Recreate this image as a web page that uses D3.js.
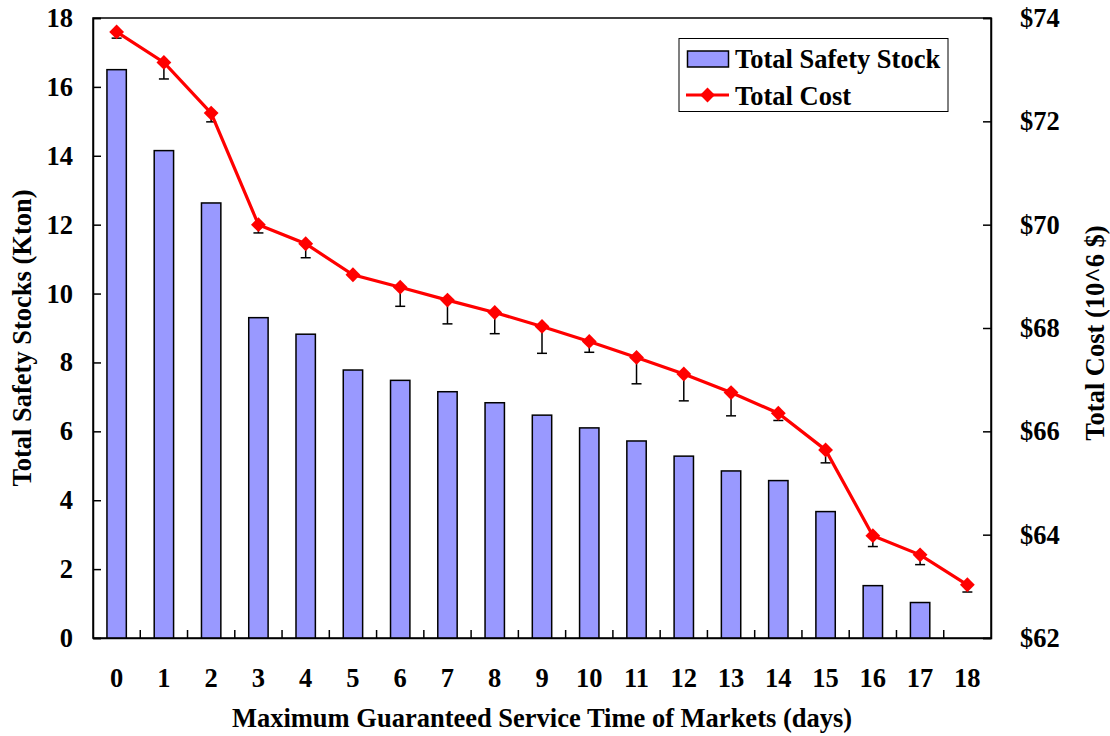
<!DOCTYPE html>
<html><head><meta charset="utf-8">
<script src="https://cdn.jsdelivr.net/npm/d3@7"></script>
<style>body{margin:0;background:#fff}text{font-family:"Liberation Serif","Times New Roman",serif;font-weight:bold;}</style>
</head><body><svg id="c" width="1110" height="736"></svg>
<script>
const categories = ["0","1","2","3","4","5","6","7","8","9","10","11","12","13","14","15","16","17","18"];
const safetyStock = [16.5,14.15,12.63,9.3,8.82,7.78,7.48,7.15,6.83,6.47,6.1,5.72,5.28,4.85,4.57,3.67,1.52,1.03,0];
const totalCost = [73.73,73.14,72.16,70.0,69.63,69.03,68.79,68.54,68.3,68.03,67.74,67.43,67.11,66.75,66.35,65.64,63.98,63.61,63.03];
const costErrLow = [0.12,0.32,0.17,0.16,0.27,0.03,0.37,0.46,0.41,0.52,0.21,0.51,0.52,0.45,0.14,0.25,0.21,0.19,0.14];
const leftTicks = [0,2,4,6,8,10,12,14,16,18];
const rightTicks = [62,64,66,68,70,72,74];

const FS = 26.5;
const svg = d3.select("#c");
const L=93, R=991, T=18, B=638;
const x = d3.scaleBand().domain(categories).range([L,R]).paddingInner(0).paddingOuter(0);
const yL = d3.scaleLinear().domain([0,18]).range([B,T]);
const yR = d3.scaleLinear().domain([62,74]).range([B,T]);
const bw = x.bandwidth()*0.41;

// frame
svg.append("rect").attr("x",L).attr("y",T).attr("width",R-L).attr("height",B-T).attr("fill","none").attr("stroke","#000").attr("stroke-width",1.5);

// bars
svg.selectAll("rect.bar").data(categories.map((c,i)=>({c,v:safetyStock[i]})).filter(d=>d.v>0)).enter().append("rect")
  .attr("class","bar").attr("x",d=>x(d.c)+x.bandwidth()/2-bw/2).attr("width",bw)
  .attr("y",d=>yL(d.v)).attr("height",d=>yL(0)-yL(d.v))
  .attr("fill","#9999FF").attr("stroke","#000").attr("stroke-width",1.5);

// axes
const gl = svg.append("g").attr("transform",`translate(${L},0)`).call(d3.axisLeft(yL).tickValues(leftTicks).tickSize(-8).tickPadding(20).tickFormat(d3.format("d")));
const gr = svg.append("g").attr("transform",`translate(${R},0)`).call(d3.axisRight(yR).tickValues(rightTicks).tickSize(-8).tickPadding(29).tickFormat(d=>"$"+d));
const gb = svg.append("g").attr("transform",`translate(0,${B})`).call(d3.axisBottom(x).tickSize(0).tickPadding(30));
[gl,gr,gb].forEach(g=>{g.select(".domain").attr("stroke","#000").attr("stroke-width",1.5);g.selectAll("line").attr("stroke","#000").attr("stroke-width",1.5);g.selectAll("text").attr("font-size",FS).attr("font-family","Liberation Serif").attr("font-weight","bold").attr("fill","#000");});
gr.selectAll("text").attr("text-anchor","start");
// category boundary ticks
svg.selectAll("line.xt").data(categories.slice(1)).enter().append("line")
  .attr("x1",d=>x(d)).attr("x2",d=>x(d)).attr("y1",B).attr("y2",B-8).attr("stroke","#000").attr("stroke-width",1.5);

// error bars
const errG = svg.append("g");
categories.forEach((c,i)=>{
  const cx = x(c)+x.bandwidth()/2, y0=yR(totalCost[i]), y1=yR(totalCost[i]-costErrLow[i]);
  errG.append("line").attr("x1",cx).attr("x2",cx).attr("y1",y0).attr("y2",y1).attr("stroke","#000").attr("stroke-width",1.5);
  errG.append("line").attr("x1",cx-5).attr("x2",cx+5).attr("y1",y1).attr("y2",y1).attr("stroke","#000").attr("stroke-width",1.5);
});

// line
const line = d3.line().x((d,i)=>x(categories[i])+x.bandwidth()/2).y(d=>yR(d));
svg.append("path").datum(totalCost).attr("d",line).attr("fill","none").attr("stroke","#FF0000").attr("stroke-width",3.2);
const diamond = d3.symbol().type(d3.symbolDiamond2).size(140);
svg.selectAll("path.mk").data(totalCost).enter().append("path").attr("class","mk")
  .attr("d",diamond).attr("transform",(d,i)=>`translate(${x(categories[i])+x.bandwidth()/2},${yR(d)})`)
  .attr("fill","#FF0000");

// axis titles
svg.append("text").attr("x",(L+R)/2).attr("y",727).attr("text-anchor","middle").attr("font-size",FS).text("Maximum Guaranteed Service Time of Markets (days)");
svg.append("text").attr("transform",`translate(31,338) rotate(-90)`).attr("text-anchor","middle").attr("font-size",FS).text("Total Safety Stocks (Kton)");
svg.append("text").attr("transform",`translate(1104,333) rotate(-90)`).attr("text-anchor","middle").attr("font-size",FS).text("Total Cost (10^6 $)");

// legend
const lg = svg.append("g");
lg.append("rect").attr("x",679).attr("y",38.5).attr("width",269).attr("height",73).attr("fill","#fff").attr("stroke","#000").attr("stroke-width",1);
lg.append("rect").attr("x",687.5).attr("y",51).attr("width",41).attr("height",16).attr("fill","#9999FF").attr("stroke","#000").attr("stroke-width",1.5);
lg.append("text").attr("x",735).attr("y",68).attr("font-size",FS).text("Total Safety Stock");
lg.append("line").attr("x1",686).attr("x2",729).attr("y1",95).attr("y2",95).attr("stroke","#FF0000").attr("stroke-width",3.2);
lg.append("path").attr("d",diamond).attr("transform","translate(707.5,95)").attr("fill","#FF0000");
lg.append("text").attr("x",735).attr("y",105).attr("font-size",FS).text("Total Cost");
</script></body></html>
